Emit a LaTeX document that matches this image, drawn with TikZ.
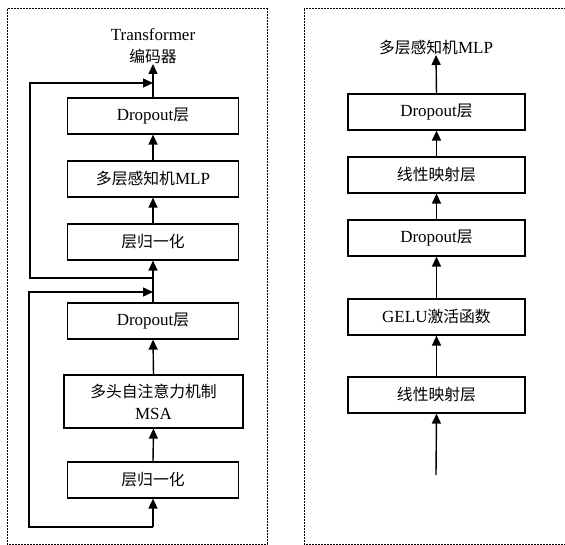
\documentclass[tikz,border=0pt]{standalone}
\usepackage{fontspec}
\setmainfont{Liberation Serif}
\newfontfamily\cjk{Noto Sans CJK SC}[Scale=0.93]
\newcommand\zh[1]{{\cjk #1}}
\usetikzlibrary{arrows.meta}
\tikzset{
  blk/.style={draw, line width=1.2pt, minimum height=36pt, inner sep=0pt, align=center,
              font=\fontsize{17}{20}\selectfont},
  lblk/.style={blk, minimum width=171pt},
  rblk/.style={blk, minimum width=177pt},
  flow/.style={line width=1.4pt, -{Triangle[length=10pt,width=9pt]}},
  frame/.style={line width=1pt, dash pattern=on 2pt off 1pt},
  ttl/.style={align=center, inner sep=0pt, font=\fontsize{17}{22}\selectfont}
}
\begin{document}
\begin{tikzpicture}[x=1pt,y=-1pt]
\useasboundingbox (0,0) rectangle (565,545);

% dotted frames round the two halves
\draw[frame] (7,9) rectangle (267,544);
\draw[frame] (304,9) rectangle (575,544);

% ---- Transformer encoder ----
\node[ttl, anchor=south] (enc) at (153,64) {Transformer\\\zh{编码器}};
\node[lblk] (ldo2) at (153,116) {Dropout\zh{层}};
\node[lblk] (lmlp) at (153,179) {\zh{多层感知机}MLP};
\node[lblk] (lln2) at (153,242) {\zh{层归一化}};
\node[lblk] (ldo1) at (153,321) {Dropout\zh{层}};
\node[blk, minimum width=179pt, minimum height=53pt, font=\fontsize{17}{22}\selectfont] (lmsa) at (153.5,401.5) {\zh{多头自注意力机制}\\MSA};
\node[lblk] (lln1) at (153,480) {\zh{层归一化}};

\coordinate (lin) at (153,527);
\coordinate (lsplit) at (153,278);
\coordinate (lj1) at (153,292);
\coordinate (lj2) at (153,83);

\draw[flow] (lin) -- (lln1.south);
\draw[flow] (lln1.north) -- (lmsa.south);
\draw[flow] (lmsa.north) -- (ldo1.south);
\draw[flow] (ldo1.north) -- (lln2.south);
\draw[flow] (lln2.north) -- (lmlp.south);
\draw[flow] (lmlp.north) -- (ldo2.south);
\draw[flow] (ldo2.north) -- (enc.south);

% residual connections
\draw[flow] (lin) -- (29,527) -- (29,292) -- (lj1);
\draw[flow] (lsplit) -- (30,278) -- (30,83) -- (lj2);

% ---- MLP block ----
\node[ttl, anchor=south] (mlp) at (436,55) {\zh{多层感知机}MLP};
\node[rblk] (rdo2) at (436.5,112) {Dropout\zh{层}};
\node[rblk] (rlin2) at (436.5,175) {\zh{线性映射层}};
\node[rblk] (rdo1) at (436.5,238) {Dropout\zh{层}};
\node[rblk] (rgelu) at (436.5,317) {GELU\zh{激活函数}};
\node[rblk] (rlin1) at (436.5,395) {\zh{线性映射层}};
\coordinate (rin) at (436,475);

\draw[flow] (rin) -- (rlin1.south);
\draw[flow] (rlin1.north) -- (rgelu.south);
\draw[flow] (rgelu.north) -- (rdo1.south);
\draw[flow] (rdo1.north) -- (rlin2.south);
\draw[flow] (rlin2.north) -- (rdo2.south);
\draw[flow] (rdo2.north) -- (mlp.south);
\end{tikzpicture}
\end{document}
